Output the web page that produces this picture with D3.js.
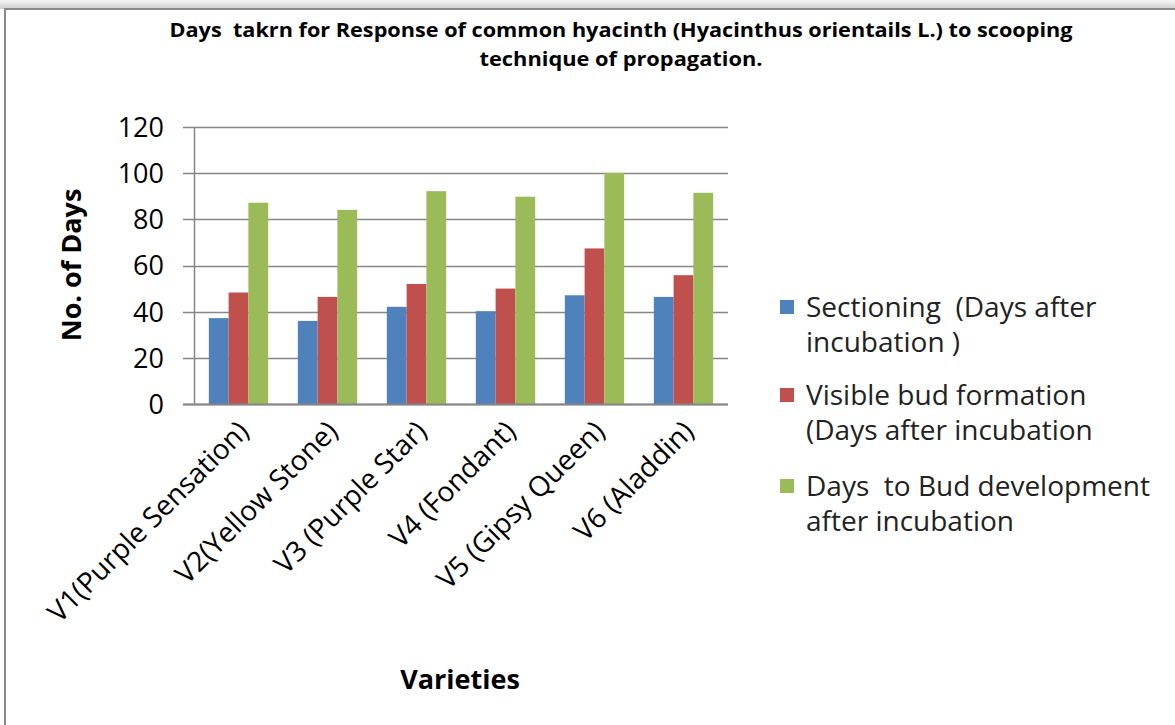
<!DOCTYPE html>
<html>
<head>
<meta charset="utf-8">
<script src="https://cdn.jsdelivr.net/npm/d3@7"></script>
<style>
  html, body { margin: 0; padding: 0; background: #fff; }
  svg { display: block; }
  text { white-space: pre; }
</style>
</head>
<body>
<svg id="chart" width="1175" height="725"></svg>
<script>
const categories = ["V1(Purple Sensation)", "V2(Yellow Stone)", "V3 (Purple Star)", "V4 (Fondant)", "V5 (Gipsy Queen)", "V6 (Aladdin)"];
const seriesNames = [
  ["Sectioning  (Days after", "incubation )"],
  ["Visible bud formation", "(Days after incubation"],
  ["Days  to Bud development", "after incubation"]
];
const sectioning = [37.2, 36.0, 42.1, 40.2, 47.1, 46.4];
const visibleBud = [48.3, 46.4, 52.0, 50.0, 67.4, 55.8];
const budDevelopment = [87.2, 84.1, 92.2, 89.8, 100.1, 91.5];
const yTicks = [0, 20, 40, 60, 80, 100, 120];
const titleLines = ["Days  takrn for Response of common hyacinth (Hyacinthus orientails L.) to scooping", "technique of propagation."];
const xTitle = "Varieties";
const yTitle = "No. of Days";
const colors = ["#4F81BD", "#C0504D", "#9BBB59"];

const series = [sectioning, visibleBud, budDevelopment];
const svg = d3.select("#chart");
const W = 1175, H = 725;
const font = "'Open Sans', sans-serif";

// background / frame
const defs = svg.append("defs");
const grad = defs.append("linearGradient").attr("id", "topShade").attr("x1", 0).attr("y1", 0).attr("x2", 0).attr("y2", 1);
grad.append("stop").attr("offset", "0%").attr("stop-color", "#f4f4f4");
grad.append("stop").attr("offset", "100%").attr("stop-color", "#d0d0d0");
svg.append("rect").attr("x", 0).attr("y", 0).attr("width", W).attr("height", 9).attr("fill", "url(#topShade)");
svg.append("rect").attr("x", 5).attr("y", 9).attr("width", W + 20).attr("height", H + 20)
  .attr("fill", "#fff").attr("stroke", "#8a8a8a").attr("stroke-width", 2);

const x0 = d3.scaleBand().domain(categories).range([194, 728]).paddingInner(0).paddingOuter(0);
const x1 = d3.scaleBand().domain([0, 1, 2]).range([0, x0.bandwidth()]).paddingInner(0).paddingOuter(0.75);
const y = d3.scaleLinear().domain([0, 120]).range([404, 127]);

// gridlines
const gridColor = "#868686";
svg.append("g").selectAll("line").data(yTicks).join("line")
  .attr("x1", 183).attr("x2", 728)
  .attr("y1", d => Math.round(y(d)) + 0.5).attr("y2", d => Math.round(y(d)) + 0.5)
  .attr("stroke", gridColor).attr("stroke-width", 1.3);

// y axis with labels
const yAxis = d3.axisLeft(y).tickValues(yTicks).tickSize(0).tickPadding(0);
const gy = svg.append("g").attr("transform", "translate(164,0)").call(yAxis);
gy.select(".domain").remove();
gy.selectAll("text").attr("font-family", font).attr("font-size", 27)
  .attr("fill", "#000").attr("dy", "0.35em");

// bars
const groups = svg.append("g").selectAll("g").data(categories).join("g")
  .attr("transform", d => `translate(${x0(d)},0)`);
groups.selectAll("rect").data((d, i) => series.map((s, k) => ({k, v: s[i]}))).join("rect")
  .attr("x", d => x1(d.k)).attr("width", x1.bandwidth())
  .attr("y", d => y(d.v)).attr("height", d => y(0) - y(d.v))
  .attr("fill", d => colors[d.k]);

// axes lines
svg.append("line").attr("x1", 194.5).attr("x2", 194.5).attr("y1", y(120)).attr("y2", y(0))
  .attr("stroke", gridColor).attr("stroke-width", 1.5);
svg.append("line").attr("x1", 183).attr("x2", 728).attr("y1", Math.round(y(0)) + 0.5).attr("y2", Math.round(y(0)) + 0.5)
  .attr("stroke", gridColor).attr("stroke-width", 1.8);

// x labels rotated
const xAxis = d3.axisBottom(x0).tickSize(0).tickPadding(0);
const gx = svg.append("g").attr("transform", "translate(0,404)").call(xAxis);
gx.select(".domain").remove();
gx.selectAll("text")
  .attr("font-family", font).attr("font-size", 28).attr("fill", "#000")
  .attr("text-anchor", "end")
  .attr("transform", "translate(5,22) rotate(-45)")
  .attr("dy", "0.35em");

// titles
const titleWidths = [903, 283];
titleLines.forEach((t, i) => {
  svg.append("text").attr("x", 621).attr("y", 37 + i * 29).attr("text-anchor", "middle")
    .attr("font-family", font).attr("font-weight", "bold").attr("font-size", 19).attr("fill", "#000")
    .attr("textLength", titleWidths[i]).attr("lengthAdjust", "spacingAndGlyphs")
    .text(t);
});

svg.append("text").attr("x", 460).attr("y", 689).attr("text-anchor", "middle")
  .attr("font-family", font).attr("font-weight", "bold").attr("font-size", 27).attr("fill", "#000")
  .text(xTitle);

svg.append("text").attr("transform", "translate(81,265) rotate(-90)").attr("text-anchor", "middle")
  .attr("font-family", font).attr("font-weight", "bold").attr("font-size", 27).attr("fill", "#000")
  .text(yTitle);

// legend
const legendTop = [307, 395, 486];
const leg = svg.append("g").selectAll("g").data(seriesNames).join("g")
  .attr("transform", (d, i) => `translate(780,${legendTop[i]})`);
leg.append("rect").attr("x", 0).attr("y", -7).attr("width", 14).attr("height", 14).attr("fill", (d, i) => colors[i]);
leg.each(function(d) {
  const t = d3.select(this).append("text").attr("font-family", font).attr("font-size", 28).attr("fill", "#222");
  d.forEach((line, j) => t.append("tspan").attr("x", 26).attr("y", j * 35).attr("dy", "0.35em").text(line));
});
</script>
</body>
</html>
